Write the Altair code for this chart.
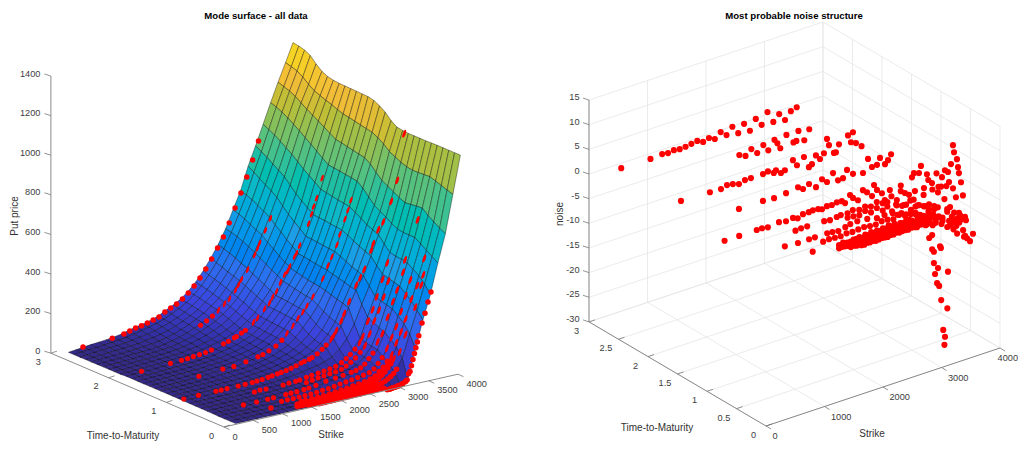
import altair as alt
import pandas as pd

# ---------- surface ----------
SURF_K = [220,348,476,604,732,860,988,1116,1244,1372,1500,1628,1756,1884,2012,2140,2268,2396,2524,2652,2780,2908,3036,3164,3292,3420,3548,3676,3804,3932,4060]
SURF_T = [0.02,0.12,0.22,0.32,0.42,0.52,0.62,0.72,0.82,0.92,1.02,1.12,1.22,1.32,1.42,1.52,1.62,1.72,1.82,1.92,2.02,2.12,2.22,2.32,2.42,2.52,2.62,2.72,2.82,2.92]
SURF_Z = [
[0,0,0,0,0,0,0,0,0,0,0,0,0,0,0,0,0,0,0,0,0,1,5,25,172,310,430,580,720,910,1100],
[0,0,0,0,1,1,1,1,1,1,2,2,3,4,5,6,7,8,10,12,15,25,55,120,235,345,470,600,735,920,1100],
[0,0,1,1,1,1,1,2,2,2,3,3,4,6,8,11,14,17,21,26,34,55,90,165,275,380,500,620,755,930,1100],
[0,1,1,1,1,2,2,2,3,3,4,5,7,9,13,18,23,28,33,38,46,72,112,190,300,405,520,640,775,940,1100],
[1,1,1,2,2,2,3,3,4,5,7,8,11,15,20,27,33,38,42,47,58,90,135,215,325,430,540,660,800,950,1100],
[1,1,1,2,2,3,3,4,5,6,8,10,12,16,20,27,33,38,43,49,63,94,140,225,332,438,545,660,797,948,1099],
[1,1,2,2,3,3,4,5,6,7,9,11,13,16,20,26,32,37,43,50,70,100,147,240,340,446,548,660,793,946,1098],
[2,2,2,3,3,4,5,6,7,8,10,11,13,16,19,24,30,35,41,50,75,105,155,255,350,455,555,665,790,945,1098],
[2,2,3,3,4,4,5,6,7,9,11,13,17,21,26,33,41,48,58,75,105,150,215,305,390,485,585,680,803,950,1098],
[3,3,4,4,5,6,7,8,9,11,14,18,23,28,35,44,55,65,82,108,145,200,285,365,430,520,620,700,820,960,1098],
[3,4,4,5,6,7,8,9,10,12,15,19,24,29,36,46,57,69,88,116,155,210,295,372,440,532,632,716,836,975,1100],
[3,4,5,5,6,7,8,10,11,13,16,20,25,30,38,48,60,74,96,125,165,222,303,380,450,545,645,735,852,990,1105],
[3,4,5,6,7,8,9,11,13,15,18,21,26,32,40,51,64,80,105,140,182,237,313,388,465,560,665,765,880,1015,1125],
[3,4,5,6,7,8,10,12,15,18,20,22,28,34,42,54,69,90,120,160,204,256,322,396,478,575,683,797,910,1035,1155],
[3,4,5,6,7,9,11,14,18,21,22,24,31,37,45,57,74,100,135,180,225,275,330,405,490,590,700,820,930,1050,1175],
[3,4,5,6,7,9,11,14,17,20,22,25,32,39,47,60,77,103,138,183,228,278,334,408,493,593,704,825,936,1056,1190],
[3,4,5,6,8,9,11,13,16,20,22,26,33,41,50,62,80,106,141,186,231,283,338,412,496,596,708,828,942,1062,1197],
[3,4,5,6,8,9,11,13,16,19,23,26,34,43,53,66,83,109,144,189,235,290,345,417,500,600,714,833,948,1068,1198],
[3,4,5,6,8,10,11,13,15,19,23,27,36,45,56,70,87,112,147,191,238,297,352,422,503,603,720,837,955,1075,1199],
[3,4,5,6,8,10,11,13,15,19,23,28,37,47,58,73,90,115,150,193,240,303,360,425,505,605,725,840,960,1080,1200],
[1,2,4,6,8,10,12,14,16,20,25,31,41,51,62,78,98,125,160,207,255,320,378,450,530,628,748,862,978,1090,1201],
[1,2,4,6,8,10,12,14,17,21,27,34,45,55,68,86,108,136,172,220,270,335,398,472,553,650,770,885,997,1102,1202],
[1,2,4,6,8,10,12,15,18,22,29,38,49,61,76,95,120,148,185,235,285,352,420,497,578,673,790,907,1015,1112,1205],
[1,2,4,6,8,10,13,15,19,24,32,41,54,67,84,103,130,159,197,248,300,370,442,522,608,705,815,928,1032,1123,1212],
[1,2,4,6,8,11,13,16,20,25,34,44,58,73,92,112,140,170,210,262,315,388,465,548,640,735,840,950,1050,1135,1225],
[0,3,5,7,9,12,15,18,23,29,37,48,62,78,97,119,147,178,220,271,328,403,480,565,660,755,860,970,1070,1155,1250],
[0,3,6,8,11,14,17,21,27,34,42,53,67,83,103,125,154,187,230,281,342,417,495,582,677,775,880,990,1090,1180,1280],
[0,3,7,10,13,16,20,25,32,40,48,59,72,89,108,131,161,196,240,292,354,430,510,598,697,795,900,1007,1105,1198,1295],
[0,4,8,11,14,18,22,28,36,45,53,63,76,95,113,136,166,203,249,302,364,438,522,610,716,812,915,1020,1115,1207,1303],
[0,4,9,13,16,20,25,31,41,51,58,68,80,101,119,141,172,210,258,313,373,445,533,620,735,830,930,1030,1125,1215,1308],
]

# ---------- observations, one set of lists per maturity ----------
# a price of -1 marks an option whose dot is hidden behind the surface in the left panel
K290 = [450,950,1150,1250,1350,1450,1550,1650,1750,1850,1950,2050,2150,2250,2350,2450,2550,2650,2750,2850,2950,3050,3150,3250,3350,3450]
P290 = [14,25,33,41,50,54,62,70,79,97,111,124,143,167,195,229,268,312,360,409,474,543,611,686,765,854]
N290 = [0.1,0,0.2,0,0.2,0,0.1,0.3,0.5,-0.1,0.3,-0.3,0.7,-0.3,1,-0.7,0.8,-1,1,-0.6,1.6,-0.8,0.4,-1.2,0.2,0.6]

K240 = [1965,2070,2170,2270,2375,2460,2565,2615,2665,2770,2890,2940,2975,3075,3160]
P240 = [85,100,118,140,165,185,222,245,270,312,378,408,432,490,545]
N240 = [0.3,-0.3,0.7,-0.5,0.7,-0.7,1,0.1,-1.1,1.2,-0.8,-0.7,1.2,-1.1,0.8]

K195 = [513,1008,1197,1300,1400,1504,1607,1709,1915,2000,2100,2137,2222,2290,2427,2496,2615,2700,2752,2820,2889,2957,3009,3043,3128,3162,3214,3368,3419,3453,3504,3600]
P195 = [5,12,15,17,20,23,27,33,50,57,68,72,84,94,125,142,180,205,230,255,295,330,345,365,410,425,460,560,605,640,680,775]
N195 = [-0.1,-0.3,-0.4,0,-0.2,-0.6,-0.2,-0.2,-0.2,0,-0.7,-0.3,-1.2,-0.9,0.6,-0.7,0.5,-1.9,-1.5,0,-1,-0.1,2.6,1.2,-0.7,-0.7,0.7,1.9,0.3,2.2,-0.2,-1.2]

K143 = [980,1390,1580,1785,1990,2075,2178,2297,2400,2485,2588,2673,2759,2827,2929,3100,3186,3254,3340,3391,3477,3528,3580]
P143 = [13,22,23,33,44,50,62,78,101,130,160,194,220,245,285,365,425,465,520,570,640,683,730]
N143 = [0.1,0.1,-0.1,0.1,0.5,-0.2,0.4,-0.7,0.5,-0.4,1,-0.8,-0.7,0.7,-0.5,-1,1.5,-0.4,-0.3,0.9,-0.7,-0.1,0.9]

K095 = [250,500,800,890,990,1180,1300,1420,1500,1590,1690,1760,1850,1915,2000,2085,2170,2255,2310,2395,2445,2530,2615,2685,2770,2805,2855,2940,2990,3075,3195,3262,3333,3453,3487,3504,3573,3607,3658,3709,3795,3897,3966,4017]
P095 = [7,9,9,9,10,10,11,12,14,16,20,23,27,30,34,40,47,55,59,65,70,83,100,117,142,155,178,222,255,310,385,417,455,545,575,-1,640,-1,674,-1,768,868,-1,1095]
N095 = [-0.1,-0.1,-0.1,-0.1,-0.3,0,-0.3,-0.1,-0.5,0,0,0.1,0,-0.3,0,-0.1,0.1,0,-0.6,0.7,-0.1,-0.9,0.8,0.1,-1,1.1,-0.1,-1.1,-2.7,-1,-3.5,-0.8,-2.6,0.1,0.8,-2.9,0.5,1.8,-2.9,-0.3,-2.4,-4.7,-1.9,-0.7]

K070 = [1210,1306,1410,1700,1800,1915,1985,2100,2190,2300,2400,2500,2600,2700,2780,2850,2930,3010,3060,3150,3230,3300,3400,3480,3550,3620,3700,3817,3835,3868,3902,3920,3970,3988]
P070 = [9,13,11,12,15,16,18,24,28,32,36,40,46,58,74,90,112,140,165,238,290,350,432,510,-1,-1,-1,-1,-1,-1,-1,-1,-1,-1]
N070 = [-0.1,0,0,-0.1,-0.3,-0.1,0,-0.1,0.2,-0.2,0.1,-0.3,0.2,-0.4,-1.4,0.4,-1.6,0.8,-2.2,-0.5,-1.8,-3.2,-1.5,1.2,-1,2,-1,1.5,-0.6,2.9,6.6,5.1,3.5,1.8]

K060 = [2000,2100,2200,2300,2400,2500,2600,2680,2760,2840,2920,3000,3080,3160,3240,3320,3400,3480]
P060 = [17,22,27,31,35,38,44,55,68,85,108,135,190,250,300,360,435,-1]
N060 = [0.1,0,-0.2,0.3,-0.4,0.1,-0.8,0.6,-1.6,-0.7,-2.6,-1.2,-3.4,-2.2,-4.2,-2.8,-4.8,-3.4]

K045 = [776,1000,1190,1290,1500,1590,1690,1810,1895,2015,2185,2350,2480,2620,2700,2780,2850,2920,2990,3070,3150,3240,3330,3402,3504,3538,3600,3650,3670,3700,3752,3770,3787,3820,3855]
P045 = [4,4,5,6,8,9,10,12,15,20,30,35,40,46,50,58,72,95,118,170,205,283,355,409,493,552,-1,-1,-1,-1,740,-1,-1,-1,-1]
N045 = [0.2,0,0,0,0,-0.1,-0.3,0,0.3,0.4,0.2,-0.3,-0.2,-0.4,-1,0.5,-1.5,1,-1.9,-0.5,-3,-1,-2.3,1.9,-1,1.5,-3,0.6,-4.4,-1.4,3.3,-5.3,1.3,-1.5,-6]

K032 = [1300,1400,1500,1600,1700,1800,1900,2000,2100,2200,2300,2400,2500,2600,2700,2800,2880,2950,3020,3100,3180,3260,3340,3420,3500]
P032 = [3,4,4,5,6,7,9,12,15,19,24,28,32,37,42,48,62,85,110,150,200,250,320,395,470]
N032 = [0,0.1,0,-0.1,0.1,0,0.1,0.2,0,-0.1,0.2,0.1,-0.2,0.3,-0.3,0.5,-0.4,-1.4,0.4,-1,-2.2,-0.8,-3.2,-1.8,-3.6]

K020 = [1000,1520,1590,1700,1800,1900,2000,2100,2200,2300,2400,2500,2600,2700,2780,2850,2920,2990,3060,3140,3220,3300,3400,3500,3620]
P020 = [5,3,3,4,5,7,9,12,15,18,22,26,31,38,48,65,82,108,135,190,240,300,395,455,585]
N020 = [0,-0.2,-0.5,-0.3,-0.2,-0.1,0,-0.1,0,0.2,0.1,-0.2,0.1,-0.4,0.3,-0.5,-1,0.6,-0.6,-1.5,-2.5,-1,-3,-2,-4]

K015 = [1400,1450,1500,1550,1600,1650,1700,1750,1800,1850,1900,1950,2000,2050,2100,2150,2200,2250,2300,2350,2400,2450,2500,2550,2600,2650,2700,2750,2800,2850,2900,2950,3000]
P015 = [3,3,3,4,4,4,5,5,6,6,7,8,9,10,11,12,14,15,17,19,21,24,27,30,34,38,44,52,60,72,88,105,125]
N015 = [0.1,0,0.1,-0.1,0,0.1,0.2,0,-0.1,0.2,0.1,0,0.2,-0.1,0.2,0.1,0.3,-0.1,0.3,0.1,-0.3,0.4,0.2,-0.5,0.5,-0.2,-0.6,0.6,-1,-0.4,-1.6,-0.6,-2.2]

K010 = [1350,1400,1450,1500,1550,1600,1650,1700,1750,1800,1850,1900,1950,2000,2050,2100,2150,2200,2250,2300,2350,2400,2450,2500,2550,2600,2650,2700,2750,2800,2850,2900,2950,3000,3100,3200,3368,3470,3504]
P010 = [1,1,1,1,2,2,2,2,3,3,3,4,4,5,6,7,8,9,10,12,14,16,18,21,24,28,33,40,50,62,75,92,110,130,160,240,368,473,522]
N010 = [0,0.1,0,-0.1,0,0.1,0,-0.1,0,0.1,0.1,0,-0.1,0.1,0.2,0,-0.1,0.1,0.2,0,-0.1,0.3,0.1,-0.2,0.3,0.4,-0.2,0.5,-0.3,0.7,-1,0.4,-1.5,-1,-2,-3,-5,-4.7,-6]

K005 = [1500,1550,1600,1650,1700,1750,1800,1850,1900,1950,2000,2050,2100,2150,2200,2250,2300,2350,2400,2450,2500,2550,2600,2650,2700,2750,2800,2850,2900,2950,3000]
P005 = [3,3,3,4,4,4,5,5,5,6,6,7,7,8,9,10,11,12,13,15,17,19,22,25,28,32,38,46,55,68,85]
N005 = [0,0.1,-0.1,0.1,0.2,0,0.1,0.2,-0.1,0.1,0.3,0.1,0.2,0,0.3,0.2,0.4,0.1,0.3,0.5,0.2,0.6,0.3,0.7,0.2,-0.2,0.8,-0.4,0.5,-0.8,0.3]

K002 = [1650,1700,1750,1800,1850,1900,1950,2000,2050,2100,2150,2200,2250,2300,2350,2400,2450,2500,2550,2600,2650,2700,2750,3150,3175,3200,3225,3250,3275,3300,3325,3350]
P002 = [5,5,5,6,6,6,6,7,7,7,7,8,8,8,8,9,9,9,9,10,10,10,10,25,55,65,92,122,150,178,205,235]
N002 = [0,-0.1,0.1,0,0.1,-0.1,0,0.1,0,-0.1,0.1,0,0.2,0,0.1,0.1,0,0.2,0.1,-0.1,0.2,0.1,-0.3,-1,-2,-1.5,-3,-1.5,-2.5,-1,-2,-1.5]

K001 = [2790,2840,2840,2870,2870,2890,2925,2940,2960,2975,2990,2995,3030,3050,3060,3100,3110,3385,3436,3487,3538]
P001 = [2,3,3,4,4,5,6,7,8,9,10,10,12,15,16,22,25,300,346,399,446]
N001 = [-2.9,-2.5,-5.4,-6,-8.3,-10.6,-12.6,-9.6,-13.3,-5.3,-5.7,-16.3,-22.5,-25.6,-24,-18.4,-11,-5,-5.5,-6.3,-5]

MATURITIES = [2.9,2.4,1.95,1.43,0.95,0.7,0.6,0.45,0.32,0.2,0.15,0.1,0.05,0.02,0.0]
STRIKES = [K290,K240,K195,K143,K095,K070,K060,K045,K032,K020,K015,K010,K005,K002,K001]
PRICES = [P290,P240,P195,P143,P095,P070,P060,P045,P032,P020,P015,P010,P005,P002,P001]
NOISES = [N290,N240,N195,N143,N095,N070,N060,N045,N032,N020,N015,N010,N005,N002,N001]

# ---------- tick values and labels ----------
PRICE_TICKS = [0,200,400,600,800,1000,1200,1400]
LEFT_T_TICKS = [0,1,2,3]
LEFT_K_TICKS = [0,500,1000,1500,2000,2500,3000,3500,4000]
NOISE_TICKS = [-30,-25,-20,-15,-10,-5,0,5,10,15]
RIGHT_T_TICKS = [0,0.5,1,1.5,2,2.5,3]
RIGHT_K_TICKS = [0,1000,2000,3000,4000]

COLOR_AT = [0,50,150,300,500,650,800,950,1050,1150,1250,1310]
COLORS = ["#352A87","#3230A8","#3B43DD","#2F6FF0","#1F9EE6","#0FB8C8","#2FC09A","#80C060","#BCBE38","#F2BC38","#F6D025","#F7EC1C"]
FONT = "Liberation Sans"
W, H = 1010, 433


def lp(k, t, z):
    return (224 + 0.0585 * k - 57.7 * t - 8, 427 - 0.0132 * k - 24.6 * t - 0.198 * z - 8)


def rp(k, t, z):
    return (766 + 0.0585 * k - 59 * t - 8, 426 - 0.0195 * k - 34.7 * t - 4.93 * (z + 30) - 8)


# surface cells, far to near
features = []
for i in range(len(SURF_T) - 2, -1, -1):
    for j in range(len(SURF_K) - 2, -1, -1):
        c = [(j, i), (j + 1, i), (j + 1, i + 1), (j, i + 1), (j, i)]
        ring = []
        for a, b in c:
            px, py = lp(SURF_K[a], SURF_T[b], SURF_Z[b][a])
            ring.append([round(px, 1), round(py, 1)])
        zmean = sum(SURF_Z[b][a] for a, b in c[:4]) / 4
        features.append({"type": "Feature", "geometry": {"type": "Polygon", "coordinates": [ring]},
                         "properties": {"z": zmean}})

round_dots, half_dots, right_dots = [], [], []
for t, ks, ps, ns in zip(MATURITIES, STRIKES, PRICES, NOISES):
    for k, p, n in zip(ks, ps, ns):
        if p >= 0:
            x, y = lp(k, t, p)
            rim = t >= 2.8 or t <= 0.02
            if rim or p < 120:
                round_dots.append({"x": x, "y": y, "size": 30 if (rim or t <= 0.2) else 26})
            else:
                half_dots.append({"x": x, "y": y, "size": 62 if t < 1 else 46})
        x, y = rp(k, t, n)
        right_dots.append({"x": x, "y": y})

# axis furniture
seg_axis, seg_tick, seg_grid = [], [], []


def seg(store, a, b):
    store.append({"x": a[0], "y": a[1], "x2": b[0], "y2": b[1]})


# left axes
seg(seg_axis, lp(0, 3, 0), lp(0, 3, 1400))
seg(seg_axis, lp(0, 3, 0), lp(0, 0, 0))
seg(seg_axis, lp(0, 0, 0), lp(4000, 0, 0))
labels_left = []
for v in PRICE_TICKS:
    a = lp(0, 3, v)
    seg(seg_tick, a, (a[0] - 6.5, a[1] - 2))
    labels_left.append({"x": a[0] - 10.5, "y": a[1] - 2.5, "s": str(v), "a": "right"})
for v in LEFT_T_TICKS:
    a = lp(0, v, 0)
    seg(seg_tick, a, (a[0] + 6, a[1] - 2))
    labels_left.append({"x": a[0] - 12.5, "y": a[1] + 8.5, "s": str(v), "a": "center"})
for v in LEFT_K_TICKS:
    a = lp(v, 0, 0)
    seg(seg_tick, a, (a[0] + 5.5, a[1] + 2.5))
    labels_left.append({"x": a[0] + 8.5, "y": a[1] + 9.5, "s": str(v), "a": "left"})

# right axes and grid
for v in NOISE_TICKS:
    seg(seg_grid, rp(0, 3, v), rp(4000, 3, v))
    seg(seg_grid, rp(4000, 3, v), rp(4000, 0, v))
for v in RIGHT_K_TICKS:
    seg(seg_grid, rp(v, 3, -30), rp(v, 3, 15))
    seg(seg_grid, rp(v, 0, -30), rp(v, 3, -30))
for v in RIGHT_T_TICKS:
    seg(seg_grid, rp(4000, v, -30), rp(4000, v, 15))
    seg(seg_grid, rp(0, v, -30), rp(4000, v, -30))
seg(seg_axis, rp(0, 3, -30), rp(0, 3, 15))
seg(seg_axis, rp(0, 3, -30), rp(0, 0, -30))
seg(seg_axis, rp(0, 0, -30), rp(4000, 0, -30))
for v in NOISE_TICKS:
    a = rp(0, 3, v)
    seg(seg_tick, a, (a[0] - 6, a[1] - 2))
    labels_left.append({"x": a[0] - 9.5, "y": a[1] - 3, "s": str(v), "a": "right"})
for v in RIGHT_T_TICKS:
    a = rp(0, v, -30)
    seg(seg_tick, a, (a[0] + 6, a[1] - 2))
    labels_left.append({"x": a[0] - 12.5, "y": a[1] + 9, "s": str(v), "a": "center"})
for v in RIGHT_K_TICKS:
    a = rp(v, 0, -30)
    seg(seg_tick, a, (a[0] + 5, a[1] + 3))
    if v == 4000:
        labels_left.append({"x": W, "y": a[1] + 10, "s": str(v), "a": "right"})
    else:
        labels_left.append({"x": a[0] + 6.5, "y": a[1] + 10, "s": str(v), "a": "left"})

TITLES = [{"x": 248, "y": 8, "s": "Mode surface - all data"}, {"x": 786, "y": 8, "s": "Most probable noise structure"}]
XLABELS = [{"x": 115, "y": 428, "s": "Time-to-Maturity"}, {"x": 323, "y": 427, "s": "Strike"},
           {"x": 649, "y": 420, "s": "Time-to-Maturity"}, {"x": 864, "y": 426, "s": "Strike"}]
YLABELS = [{"x": 7, "y": 208, "s": "Put price"}, {"x": 552, "y": 206, "s": "noise"}]

xs = alt.Scale(domain=[0, W], range=[0, W])
ys = alt.Scale(domain=[0, H], range=[0, H])
X = alt.X("x:Q", scale=xs, axis=None)
Y = alt.Y("y:Q", scale=ys, axis=None)


def rule_layer(rows, color, width):
    return alt.Chart(pd.DataFrame(rows)).mark_rule(color=color, strokeWidth=width).encode(
        x=X, y=Y, x2="x2:Q", y2="y2:Q")


surface = alt.Chart(alt.Data(values=features)).mark_geoshape(
    stroke="#000000", strokeWidth=0.5, strokeOpacity=0.75
).encode(
    color=alt.Color("properties.z:Q", legend=None,
                    scale=alt.Scale(domain=COLOR_AT, range=COLORS, clamp=True))
).project(type="identity", scale=1, translate=[0, 0])

dots_round = alt.Chart(pd.DataFrame(round_dots)).mark_circle(color="#ff0000", opacity=1).encode(
    x=X, y=Y, size=alt.Size("size:Q", scale=None, legend=None))
ELLIPSE = "M-0.3,1 C-0.85,1 -0.15,-1 0.3,-1 C0.85,-1 0.25,1 -0.3,1 Z"
dots_half = alt.Chart(pd.DataFrame(half_dots)).mark_point(
    shape=ELLIPSE, filled=True, color="#ff0000", opacity=1, stroke=None).encode(
    x=X, y=Y, size=alt.Size("size:Q", scale=None, legend=None))
dots_r = alt.Chart(pd.DataFrame(right_dots)).mark_circle(color="#ff0000", size=38, opacity=1).encode(x=X, y=Y)


def text_layer(rows, **kw):
    return alt.Chart(pd.DataFrame(rows)).mark_text(font=FONT, baseline="middle", **kw).encode(x=X, y=Y, text="s:N")


tl_right = text_layer([r for r in labels_left if r["a"] == "right"], align="right", fontSize=9.2, color="#3c3c3c")
tl_center = text_layer([r for r in labels_left if r["a"] == "center"], align="center", fontSize=9.2, color="#3c3c3c")
tl_left = text_layer([r for r in labels_left if r["a"] == "left"], align="left", fontSize=9.2, color="#3c3c3c")
titles = text_layer(TITLES, align="center", fontSize=9.6, fontWeight="bold", color="#000000")
xlabels = text_layer(XLABELS, align="center", fontSize=10, color="#333333")
ylabels = text_layer(YLABELS, align="center", fontSize=10, color="#333333", angle=270)

chart = alt.layer(
    rule_layer(seg_grid, "#e6e6e6", 0.8),
    surface,
    dots_round,
    dots_half,
    dots_r,
    rule_layer(seg_axis, "#8a8a8a", 1),
    rule_layer(seg_tick, "#777777", 0.8),
    tl_right, tl_center, tl_left, titles, xlabels, ylabels,
).properties(width=W, height=H, padding=0, autosize=alt.AutoSizeParams(type="none")).configure_view(stroke=None)

chart.save("out.html", embed_options={"renderer": "svg", "actions": False})
